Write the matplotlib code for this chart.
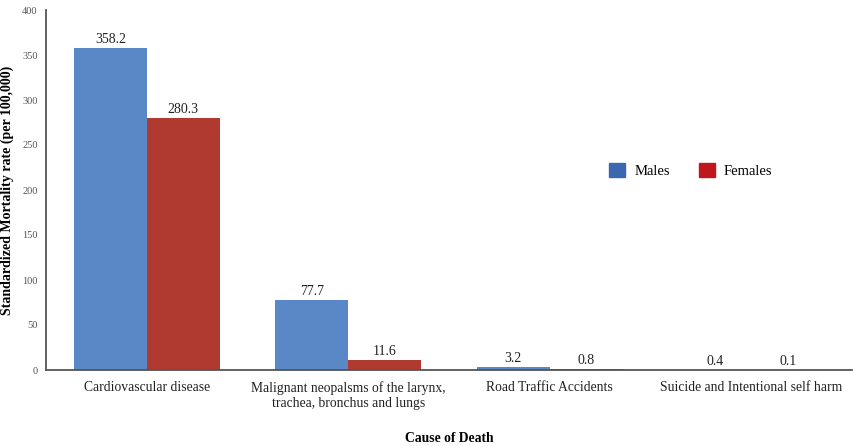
import matplotlib.pyplot as plt
import numpy as np
from matplotlib.patches import Patch

causes = ["Cardiovascular disease",
          "Malignant neopalsms of the larynx,\ntrachea, bronchus and lungs",
          "Road Traffic Accidents",
          "Suicide and Intentional self harm"]
males = [358.2, 77.7, 3.2, 0.4]
females = [280.3, 11.6, 0.8, 0.1]
value_labels_m = ["358.2", "77.7", "3.2", "0.4"]
value_labels_f = ["280.3", "11.6", "0.8", "0.1"]

BAR_BLUE = "#5a87c5"
BAR_RED = "#b03a30"

plt.rcParams['font.family'] = ['Liberation Serif', 'DejaVu Serif']

fig = plt.figure(figsize=(8.54, 4.46), dpi=100)
ax = fig.add_axes([46 / 854, 76 / 446, 806 / 854, 360 / 446])

x = np.arange(len(causes))
w = 0.362
ax.bar(x - w / 2, males, w, color=BAR_BLUE)
ax.bar(x + w / 2, females, w, color=BAR_RED)

# value labels over each bar
for i in range(len(causes)):
    ax.text(x[i] - w / 2, males[i] + 2, value_labels_m[i], ha="center",
            va="bottom", fontsize=10, color="#222222")
    ax.text(x[i] + w / 2, females[i] + 2, value_labels_f[i], ha="center",
            va="bottom", fontsize=10, color="#222222")

ax.set_xlim(-0.5, len(causes) - 0.5)
ax.set_ylim(0, 400)
ax.set_yticks(range(0, 401, 50))
ax.tick_params(axis="y", length=0, labelsize=7.5, labelcolor="#555555", pad=6)
ax.tick_params(axis="x", length=0, labelsize=9.8, labelcolor="#222222", pad=8)
ax.set_xticks(x)
ax.set_xticklabels(causes)

for s in ["top", "right"]:
    ax.spines[s].set_visible(False)
for s in ["left", "bottom"]:
    ax.spines[s].set_color("#555555")
    ax.spines[s].set_linewidth(1.3)

ax.set_ylabel("Standardized Mortality rate (per 100,000)", fontsize=10,
              fontweight="bold", labelpad=6)
ax.set_xlabel("Cause of Death", fontsize=9.8, fontweight="bold", labelpad=16)

handles = [Patch(color="#3b67b1", label="Males"),
           Patch(color="#c0171e", label="Females")]
ax.legend(handles=handles, loc="center", bbox_to_anchor=(0.80, 0.555), ncol=2,
          frameon=False, fontsize=10.5, handlelength=1.1, handleheight=1.1,
          columnspacing=2.0, handletextpad=0.6)

fig.savefig("out.png", dpi=100)
